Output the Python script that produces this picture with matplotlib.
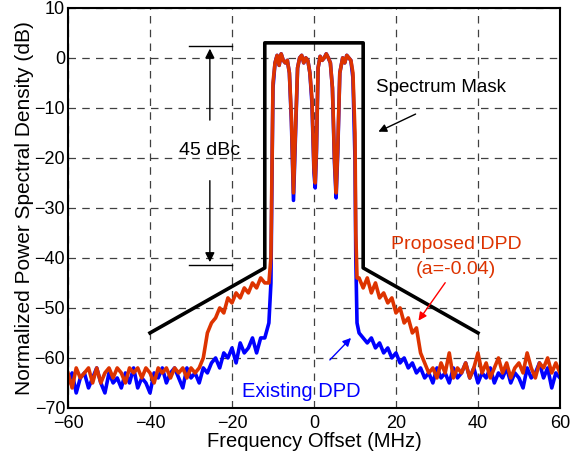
import numpy as np
import matplotlib
matplotlib.use("Agg")
import matplotlib.pyplot as plt

plt.rcParams['font.family'] = ['Liberation Sans', 'DejaVu Sans']

# frequency grid (MHz)
freq_left = list(range(-60, -11))
freq_band = [-11, -10.5, -10.2, -10, -9.5, -9, -8.5, -8, -7.5, -7, -6.5, -6, -5.5, -5, -4.5,
             -4, -3.5, -3, -2.5, -2, -1.5, -1, -0.5, 0, 0.3, 0.6, 1, 1.5, 2, 2.5, 3, 3.5,
             4, 4.5, 5, 5.4, 5.8, 6.3, 7, 7.5, 8, 8.5, 9, 9.5, 10, 10.2, 10.5]
freq_right = list(range(11, 61))
freq = freq_left + freq_band + freq_right

# Existing DPD (blue)
existing_left = [-65, -63, -67, -64, -63, -66, -64, -62, -65, -67, -63, -65, -64, -66, -63, -65,
                 -62, -66, -64, -65, -67, -63, -64, -62, -65, -63, -62, -64, -66, -62, -64, -63,
                 -65, -62, -63, -61, -60, -62, -59, -60, -58, -61, -57, -59, -58, -56, -59, -56,
                 -56]
existing_band = [-53, -45, -20, -6, -1, 0.5, -1.5, 0.8, -0.5, -1, -0.5, -3, -13, -28.5, -15,
                 -2, 0, 0.5, -1, 0, -0.5, -3, -9, -23, -26, -19, -2, 0.3, -0.5, 0, 0.8, 0,
                 -1, -6, -21, -28, -19, -3, 0, -1, 0.5, 0, -0.5, -4, -20, -40, -53]
existing_right = [-55, -56, -57, -56, -58, -57, -59, -58, -60, -59, -61, -60, -62, -61, -63, -62,
                  -64, -63, -65, -62, -64, -63, -65, -62, -64, -63, -61, -64, -62, -65, -63, -64,
                  -62, -65, -63, -64, -62, -65, -63, -64, -66, -62, -64, -63, -61, -64, -62, -66,
                  -63, -64]
existing = existing_left + existing_band + existing_right

# Proposed DPD (red)
proposed_left = [-63, -66, -62, -64, -63, -62, -65, -62, -65, -63, -62, -64, -62, -63, -65, -62,
                 -63, -62, -64, -62, -63, -65, -62, -63, -62, -64, -62, -63, -62, -64, -62, -63,
                 -62, -60, -55, -53, -52, -50, -51, -48, -49, -47, -48, -46, -47, -45, -46, -44,
                 -45]
proposed_band = [-45, -40, -20, -5, -1, 0.5, -1.5, 0.8, -0.5, -1, -0.5, -3, -12, -27, -14,
                 -2, 0, 0.5, -1, 0, -0.5, -3, -8, -22, -25, -18, -2, 0.3, -0.5, 0, 0.8, 0,
                 -1, -6, -20, -27, -18, -3, 0, -1, 0.5, 0, -0.5, -3, -15, -35, -44]
proposed_right = [-44, -46, -44, -47, -45, -48, -47, -49, -48, -51, -50, -53, -52, -55, -54, -59,
                  -61, -63, -62, -64, -61, -63, -59, -64, -62, -63, -61, -64, -62, -59, -63, -61,
                  -64, -62, -60, -63, -61, -64, -62, -61, -63, -59, -62, -64, -61, -62, -60, -63,
                  -61, -63]
proposed = proposed_left + proposed_band + proposed_right

# spectrum mask corners
mask_f = [-40, -12, -12, 12, 12, 40]
mask_db = [-55, -42, 3, 3, -42, -55]

fig = plt.figure(figsize=(5.74, 4.62), dpi=100)
ax = fig.add_axes([0.1185, 0.117, 0.857, 0.866])

ax.plot(freq, existing, color='#0000ff', lw=2.6)
ax.plot(freq, proposed, color='#dd3300', lw=2.6)
ax.plot(mask_f, mask_db, color='black', lw=2.6)

ax.set_xlim(-60, 60)
ax.set_ylim(-70, 10)
ax.set_xticks(np.arange(-60, 61, 20))
ax.set_yticks(np.arange(-70, 11, 10))
ax.grid(True, color='black', linestyle=(0, (6, 5)), lw=0.9, alpha=0.75)
ax.tick_params(labelsize=13, direction='in', length=0, pad=2)
ax.tick_params(axis='x', pad=5)
for s in ax.spines.values():
    s.set_linewidth(1.5)
ax.set_xlabel('Frequency Offset (MHz)', fontsize=14.5, labelpad=0)
ax.set_ylabel('Normalized Power Spectral Density (dB)', fontsize=15, labelpad=0)

# 45 dBc marker
ax.plot([-30.5, -20], [2.4, 2.4], color='black', lw=1)
ax.plot([-30.5, -20], [-41.4, -41.4], color='black', lw=1)
ax.annotate('', xy=(-25.4, 2.4), xytext=(-25.4, -13),
            arrowprops=dict(arrowstyle='-|>', color='black', lw=1, mutation_scale=14))
ax.annotate('', xy=(-25.4, -41.4), xytext=(-25.4, -24),
            arrowprops=dict(arrowstyle='-|>', color='black', lw=1, mutation_scale=14))
ax.text(-25.4, -18.5, '45 dBc', ha='center', va='center', fontsize=14)

ax.text(31, -6, 'Spectrum Mask', ha='center', va='center', fontsize=13.5)
ax.annotate('', xy=(15.1, -15), xytext=(25.4, -11),
            arrowprops=dict(arrowstyle='-|>', color='black', lw=1, mutation_scale=12))

ax.text(34.6, -37.4, 'Proposed DPD', ha='center', va='center', fontsize=14, color='#dd3300')
ax.text(34.6, -42.4, '(a=-0.04)', ha='center', va='center', fontsize=14, color='#dd3300')
ax.annotate('', xy=(25.1, -53), xytext=(32.4, -44.5),
            arrowprops=dict(arrowstyle='-|>', color='red', lw=1, mutation_scale=12))

ax.text(-17.5, -66.8, 'Existing DPD', ha='left', va='center', fontsize=14.5, color='#0000ff')
ax.annotate('', xy=(9.5, -55.6), xytext=(3.4, -60.8),
            arrowprops=dict(arrowstyle='-|>', color='#0000ff', lw=1, mutation_scale=12))

fig.savefig('out.png', dpi=100)
